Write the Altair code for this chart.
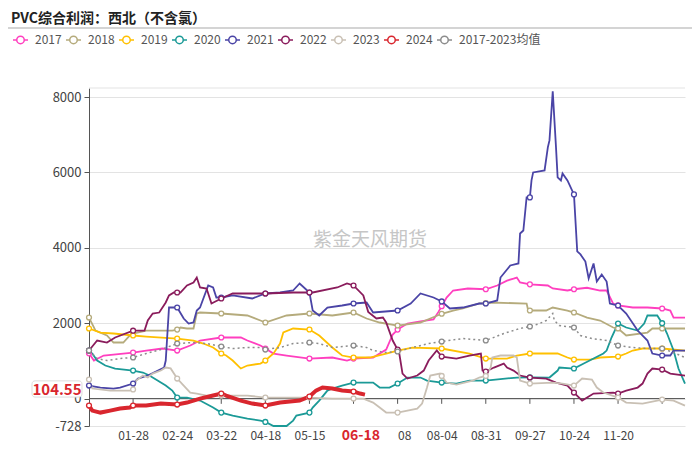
import altair as alt
import pandas as pd

TITLE = "PVC综合利润：西北（不含氯）"
WATERMARK = "紫金天风期货"
series_names = ["2017", "2018", "2019", "2020", "2021", "2022", "2023", "2024", "2017-2023均值"]
series_colors = ["#ff3fbf", "#b5ab7c", "#ffc000", "#1b9a97", "#4a44a6", "#8a1c5c", "#c9c0b4", "#d9262e", "#8c8c8c"]

# x: day index of the year (0 = 01-01, 365 = 12-31)
tick_days = [27, 54, 81, 108, 135, 162, 189, 216, 243, 270, 297, 324, 351]
tick_labels = ["01-28", "02-24", "03-22", "04-18", "05-15", "", "08", "08-04", "08-31", "09-27", "10-24", "11-20", ""]
current_day = [169]
current_label = ["06-18"]
y_ticks = [-728, 0, 2000, 4000, 6000, 8000]

days_2017 = [0, 3, 9, 27, 35, 45, 54, 62, 68, 81, 93, 97, 105, 108, 113, 121, 135, 149, 158, 162, 174, 182, 186, 189, 195, 203, 211, 214, 216, 219, 223, 232, 243, 250, 256, 260, 262, 264, 270, 281, 284, 293, 297, 305, 313, 317, 321, 324, 333, 342, 351, 356, 358, 365]
vals_2017 = [1200, 1009, 1142, 1221, 1274, 1328, 1274, 1407, 1540, 1620, 1620, 1540, 1407, 1328, 1195, 1142, 1062, 1089, 1009, 1062, 1089, 1300, 1700, 1830, 1990, 2050, 2100, 2300, 2450, 2680, 2867, 2920, 2900, 3000, 3130, 3180, 3210, 3080, 3030, 3000, 2920, 2867, 2900, 2940, 2867, 2867, 2520, 2470, 2416, 2416, 2390, 2336, 2150, 2150]

days_2018 = [0, 4, 11, 15, 21, 25, 27, 35, 51, 54, 56, 60, 64, 66, 68, 81, 97, 105, 108, 121, 135, 149, 162, 170, 178, 189, 203, 209, 216, 223, 229, 239, 243, 246, 268, 269, 270, 280, 284, 293, 297, 305, 313, 321, 324, 329, 342, 345, 351, 365]
vals_2018 = [2150, 1805, 1673, 1487, 1487, 1673, 1726, 1805, 1805, 1830, 1885, 1859, 1859, 2257, 2283, 2257, 2204, 2071, 2018, 2204, 2257, 2204, 2283, 2124, 2018, 1938, 2018, 2124, 2250, 2336, 2390, 2522, 2530, 2549, 2522, 2336, 2336, 2336, 2416, 2336, 2283, 2150, 2071, 1885, 1859, 1673, 1752, 1859, 1859, 1859]

days_2019 = [0, 7, 15, 27, 35, 54, 64, 70, 76, 81, 84, 88, 93, 97, 105, 108, 113, 117, 119, 125, 135, 141, 149, 155, 162, 172, 182, 189, 198, 216, 233, 243, 256, 262, 270, 287, 293, 297, 307, 313, 324, 329, 333, 339, 351, 365]
vals_2019 = [1859, 1752, 1726, 1673, 1646, 1593, 1540, 1460, 1354, 1195, 1142, 1009, 797, 876, 929, 1009, 1195, 1460, 1752, 1859, 1832, 1673, 1354, 1142, 1089, 1089, 1195, 1274, 1354, 1328, 1195, 1062, 1062, 1142, 1195, 1195, 1089, 1035, 1035, 1089, 1115, 1195, 1274, 1328, 1328, 1274]

days_2020 = [0, 2, 5, 10, 16, 27, 33, 37, 42, 47, 51, 54, 60, 68, 76, 81, 88, 97, 105, 108, 113, 121, 125, 127, 135, 137, 141, 146, 149, 155, 162, 174, 178, 184, 189, 195, 203, 207, 216, 225, 233, 243, 262, 270, 282, 287, 288, 297, 303, 309, 315, 317, 320, 324, 329, 336, 340, 342, 348, 351, 354, 358, 361, 365]
vals_2020 = [1274, 1195, 1009, 876, 797, 743, 690, 611, 478, 345, 212, 27, 27, -53, -239, -372, -451, -531, -584, -620, -728, -728, -584, -451, -372, -239, -53, 212, 266, 345, 425, 425, 292, 292, 400, 558, 558, 478, 425, 398, 478, 478, 558, 560, 558, 743, 823, 797, 929, 1062, 1195, 1274, 1620, 1991, 1885, 1805, 1991, 2204, 2204, 2000, 1726, 1274, 797, 398]

days_2021 = [0, 7, 15, 19, 27, 30, 36, 46, 47, 49, 54, 58, 61, 64, 66, 68, 73, 76, 78, 81, 88, 100, 108, 117, 125, 129, 135, 137, 141, 146, 155, 162, 170, 174, 189, 197, 203, 211, 216, 221, 229, 239, 243, 250, 252, 258, 263, 264, 266, 268, 270, 271, 272, 279, 281, 282, 284, 286, 287, 289, 290, 293, 297, 299, 301, 304, 306, 309, 311, 314, 317, 319, 324, 329, 336, 342, 345, 351, 356, 358, 365]
vals_2021 = [345, 292, 266, 292, 398, 531, 611, 823, 1009, 2416, 2416, 2124, 1991, 2018, 2336, 2416, 3000, 2947, 2682, 2682, 2735, 2655, 2788, 2814, 2867, 3053, 2814, 2336, 2204, 2416, 2469, 2522, 2549, 2283, 2336, 2522, 2788, 2682, 2576, 2390, 2416, 2522, 2522, 2602, 3212, 3531, 3584, 4380, 4460, 5337, 5337, 5788, 6000, 6053, 6664, 6850, 8150, 6664, 5870, 5788, 5973, 5788, 5417, 3904, 3824, 3637, 3186, 3584, 3106, 3292, 3106, 2522, 2469, 2257, 1805, 1540, 1195, 1142, 1142, 1274, 1274]

days_2022 = [0, 5, 11, 16, 27, 34, 36, 39, 43, 47, 49, 52, 54, 56, 60, 64, 66, 68, 72, 75, 81, 88, 108, 125, 135, 137, 152, 158, 162, 168, 171, 176, 180, 182, 186, 189, 190, 192, 195, 201, 205, 208, 213, 216, 225, 233, 240, 241, 243, 248, 254, 256, 260, 264, 270, 280, 286, 293, 297, 302, 309, 321, 324, 329, 336, 339, 342, 345, 351, 356, 365]
vals_2022 = [1274, 1540, 1487, 1620, 1800, 1805, 2071, 2257, 2283, 2549, 2735, 2814, 2814, 2814, 3000, 3080, 3212, 2947, 2920, 2522, 2655, 2788, 2788, 2814, 2814, 2814, 2947, 3053, 3000, 2735, 2300, 2124, 2150, 2018, 1540, 1300, 1200, 664, 531, 611, 743, 1009, 1274, 1115, 1062, 1142, 1195, 743, 717, 823, 929, 823, 743, 611, 558, 531, 425, 345, 159, -53, 133, 159, 133, 212, 292, 398, 664, 797, 770, 664, 611]

days_2023 = [0, 2, 13, 25, 27, 29, 33, 36, 39, 44, 47, 50, 54, 58, 62, 66, 72, 81, 97, 108, 121, 135, 149, 162, 168, 174, 178, 182, 189, 201, 204, 207, 209, 215, 216, 219, 225, 235, 239, 243, 246, 247, 252, 260, 262, 264, 270, 284, 290, 297, 302, 308, 311, 315, 324, 329, 339, 351, 358, 365]
vals_2023 = [504, 266, 212, 212, 240, 478, 611, 558, 664, 743, 823, 800, 531, 345, 159, 133, 80, 80, 80, 27, 27, 27, 0, 0, 0, -106, -239, -372, -372, -266, -133, 292, 611, 664, 600, 425, 372, 478, 558, 600, 823, 1089, 1142, 1142, 1089, 478, 398, 425, 398, 345, 531, 504, 292, 159, 27, -106, -133, -27, -53, -186]

days_2024 = [0, 2, 7, 13, 19, 25, 27, 35, 44, 54, 60, 68, 76, 81, 84, 93, 100, 108, 117, 129, 135, 139, 143, 149, 155, 162, 166, 169]
vals_2024 = [-186, -319, -372, -319, -266, -239, -186, -186, -133, -159, -106, 0, 80, 133, 80, -53, -133, -186, -106, -53, 53, 212, 292, 266, 212, 186, 133, 104.55]

days_avg = [0, 5, 11, 19, 27, 35, 44, 54, 64, 72, 81, 88, 97, 105, 108, 117, 125, 135, 141, 149, 162, 170, 174, 182, 189, 198, 208, 216, 229, 243, 254, 264, 270, 276, 280, 284, 285, 288, 297, 301, 308, 317, 324, 333, 342, 351, 358, 365]
vals_avg = [1274, 1062, 1009, 1062, 1089, 1195, 1301, 1460, 1487, 1460, 1381, 1328, 1354, 1354, 1301, 1354, 1460, 1487, 1460, 1354, 1407, 1354, 1274, 1221, 1248, 1354, 1460, 1513, 1593, 1540, 1726, 1859, 1912, 1991, 2071, 2257, 2071, 1938, 1885, 1673, 1593, 1540, 1407, 1354, 1328, 1328, 1221, 1089]

all_days = [days_2017, days_2018, days_2019, days_2020, days_2021, days_2022, days_2023, days_2024, days_avg]
all_vals = [vals_2017, vals_2018, vals_2019, vals_2020, vals_2021, vals_2022, vals_2023, vals_2024, vals_avg]

symbol_days = set([0] + tick_days)
rows = []
for name, ds, vs in zip(series_names, all_days, all_vals):
    for d, v in zip(ds, vs):
        rows.append({"series": name, "day": d, "value": v, "sym": d in symbol_days})
df = pd.DataFrame(rows)

years_solid = series_names[:7]
avg_name = series_names[8]
cur_name = series_names[7]
last_value = vals_2024[-1]

label_expr = "[" + ",".join("'%s'" % t for t in tick_labels) + "][round(datum.value/27)-1]"

x_enc = alt.X("day:Q", scale=alt.Scale(domain=[0, 365], nice=False, zero=False),
              axis=alt.Axis(values=tick_days, labelExpr=label_expr, domain=False, ticks=False, grid=False,
                            labelFontSize=12, labelColor="#444", labelPadding=4, title=None,
                            labelAlign={"condition": {"test": "datum.value == 189", "value": "left"}, "value": "center"}))
y_enc = alt.Y("value:Q", scale=alt.Scale(domain=[-728, 8240], nice=False, zero=False),
              axis=alt.Axis(values=y_ticks, labelExpr="'' + datum.value", grid=True, gridColor="#e3e3e3",
                            domainColor="#555", tickColor="#555", tickSize=5, labelColor="#444",
                            labelFontSize=13, labelPadding=3, title=None))

legend_symbol = "M-1,0L-0.5,0M0.5,0L1,0M-0.5,0A0.5,0.5,0,1,1,0.5,0A0.5,0.5,0,1,1,-0.5,0Z"
color_enc = alt.Color("series:N", scale=alt.Scale(domain=series_names, range=series_colors),
                      legend=alt.Legend(title=None, orient="none", legendX=-77, legendY=-57,
                                        direction="horizontal", symbolType=legend_symbol, symbolSize=225,
                                        symbolStrokeWidth=1.5, symbolFillColor="white",
                                        labelFontSize=12, labelColor="#555", labelOffset=6,
                                        columnPadding=1))

base = alt.Chart(df).encode(x=x_enc, y=y_enc, color=color_enc)

grid_top = alt.Chart(pd.DataFrame({"value": [8240]})).mark_rule(color="#e3e3e3").encode(y="value:Q")
zero_line = alt.Chart(pd.DataFrame({"value": [0]})).mark_rule(color="#555", strokeWidth=1).encode(y="value:Q")
tick_marks = alt.Chart(pd.DataFrame({"day": tick_days})).mark_rule(color="#555").encode(
    x="day:Q", y=alt.datum(0), y2=alt.datum(-140))

watermark = alt.Chart(pd.DataFrame({"t": [WATERMARK]})).mark_text(
    fontSize=19, color="#c6c6c6", font="Noto Sans CJK SC").encode(
    x=alt.value(281), y=alt.value(152), text="t:N")

lines_solid = base.transform_filter(alt.FieldOneOfPredicate(field="series", oneOf=years_solid)).mark_line(strokeWidth=1.8)
line_avg = base.transform_filter(alt.datum.series == avg_name).mark_line(strokeWidth=1.5, strokeDash=[2, 3])
line_cur = base.transform_filter(alt.datum.series == cur_name).mark_line(strokeWidth=4)
symbols = base.transform_filter(alt.datum.sym).mark_point(
    shape="circle", filled=False, fill="white", size=24, strokeWidth=1.3, opacity=1)

title_text = alt.Chart(pd.DataFrame({"t": [TITLE]})).mark_text(
    fontSize=14, fontWeight="bold", color="#222", align="left", baseline="middle",
    font="Noto Sans CJK SC").encode(x=alt.value(-78), y=alt.value(-69), text="t:N")
# separator line under the title (placed in scale space, above the plot area)
title_rule = alt.Chart(pd.DataFrame({"a": [0]})).mark_rule(color="#d4d4d4", strokeWidth=2).encode(
    x=alt.datum(-49.6), x2=alt.datum(369.3), y=alt.datum(9832))

box = alt.Chart(pd.DataFrame({"a": [0]})).mark_rect(
    fill="white", stroke="#dddddd", strokeWidth=1, cornerRadius=3).encode(
    x=alt.datum(-34.9), x2=alt.datum(-4.3), y=alt.datum(470), y2=alt.datum(40))
box_text = alt.Chart(pd.DataFrame({"value": [last_value], "t": ["%.2f" % last_value]})).mark_text(
    fontSize=15, fontWeight="bold", color="#d9262e", dy=-5, baseline="middle").encode(
    x=alt.value(-32), y="value:Q", text="t:N")

cur_label = alt.Chart(pd.DataFrame({"day": current_day, "t": current_label})).mark_text(
    fontSize=14, fontWeight="bold", color="#d9262e", dy=10, dx=-4, baseline="middle").encode(
    x="day:Q", y=alt.datum(-728), text="t:N")

chart = alt.layer(
    grid_top, watermark, zero_line, tick_marks, lines_solid, line_avg, line_cur, symbols,
    title_text, title_rule, box, box_text, cur_label
).properties(
    width=596, height=338,
    autosize=alt.AutoSizeParams(type="none"),
    padding={"left": 81, "top": 80, "right": 7, "bottom": 18},
).configure(font="Noto Sans CJK SC").configure_view(stroke=None)

chart.save("out.html", embed_options={"renderer": "svg", "actions": False})
